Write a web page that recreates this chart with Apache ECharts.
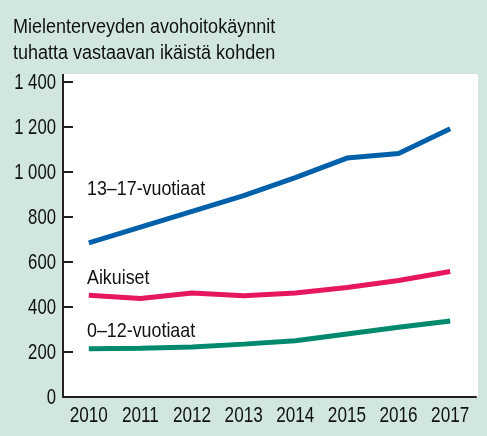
<!DOCTYPE html>
<html lang="fi" style="height: 100%">
<head>
    <meta charset="utf-8">
    <title>Mielenterveyden avohoitokäynnit</title>
    <style>
        body { margin: 0; background: #d0e6df; }
        #chart { width: 487px; height: 436px; }
    </style>
</head>
<body>
<div id="chart"></div>
<script src="https://cdn.jsdelivr.net/npm/echarts@6/dist/echarts.min.js"></script>
<script>
    // vuodet ja käynnit / 1000 vastaavan ikäistä
    const years = ['2010', '2011', '2012', '2013', '2014', '2015', '2016', '2017'];
    const yTicks = [0, 200, 400, 600, 800, 1000, 1200, 1400];
    const teens = [685, 755, 825, 895, 975, 1062, 1082, 1192];
    const adults = [452, 438, 462, 450, 462, 487, 518, 558];
    const kids = [214, 217, 222, 235, 250, 280, 310, 338];
    const seriesNames = ['13–17-vuotiaat', 'Aikuiset', '0–12-vuotiaat'];
    const titleLines = ['Mielenterveyden avohoitokäynnit', 'tuhatta vastaavan ikäistä kohden'];

    const font = '"Liberation Sans", Arial, sans-serif';
    const ink = '#231f20';
    const textInk = '#111';

    const chart = echarts.init(document.getElementById('chart'));

    const line = (name, data, color) => ({
        name: name,
        type: 'line',
        data: data,
        symbol: 'none',
        lineStyle: { width: 5, color: color },
        z: 3
    });

    // kapea teksti: fontti venytetään vaakasuunnassa kapeammaksi
    const txt = (x, y, text, size, sx, align) => ({
        type: 'text', x: x, y: y, scaleX: sx, silent: true,
        style: { text: text, font: size + 'px ' + font, fill: textInk, align: align || 'left', verticalAlign: 'middle' }
    });

    const fmt = v => v >= 1000 ? Math.floor(v / 1000) + ' ' + String(v % 1000).padStart(3, '0') : String(v);

    chart.setOption({
        animation: false,
        backgroundColor: '#d0e6df',
        grid: { left: 63, right: 11, top: 82, bottom: 39 },
        xAxis: {
            type: 'category',
            data: years,
            boundaryGap: true,
            axisLine: { lineStyle: { color: ink, width: 2 } },
            axisTick: { inside: true, length: 10, lineStyle: { color: ink, width: 2 } },
            axisLabel: { show: false }
        },
        yAxis: {
            type: 'value',
            min: 0,
            max: 1400,
            interval: 200,
            axisLine: { show: true, lineStyle: { color: ink, width: 2 } },
            axisTick: { show: true, inside: true, length: 10, lineStyle: { color: ink, width: 2 } },
            splitLine: { show: false },
            axisLabel: { show: false }
        },
        series: [
            line(seriesNames[0], teens, '#0061aa'),
            line(seriesNames[1], adults, '#e6175f'),
            line(seriesNames[2], kids, '#00896c')
        ]
    });

    const px = (cat, val) => chart.convertToPixel({ gridIndex: 0 }, [cat, val]);
    const graphics = [
        { type: 'rect', shape: { x: 63, y: 74, width: 415, height: 323 }, style: { fill: '#fff' }, z: -10, silent: true },
        { type: 'line', shape: { x1: 63, y1: 74, x2: 63, y2: 84 }, style: { stroke: ink, lineWidth: 2 }, silent: true },
        txt(13, 27.5, titleLines[0], 20, 0.9),
        txt(13, 53, titleLines[1], 20, 0.9),
        txt(87, 189.5, seriesNames[0], 21, 0.85),
        txt(87, 278, seriesNames[1], 21, 0.85),
        txt(87, 331, seriesNames[2], 21, 0.85)
    ];
    years.forEach(y => {
        graphics.push(txt(px(y, 0)[0], 416, y, 22, 0.78, 'center'));
    });
    yTicks.forEach(v => {
        graphics.push(txt(56, px(years[0], v)[1] + 0.5, fmt(v), 22, 0.76, 'right'));
    });
    chart.setOption({ graphic: graphics });
</script>
</body>
</html>
